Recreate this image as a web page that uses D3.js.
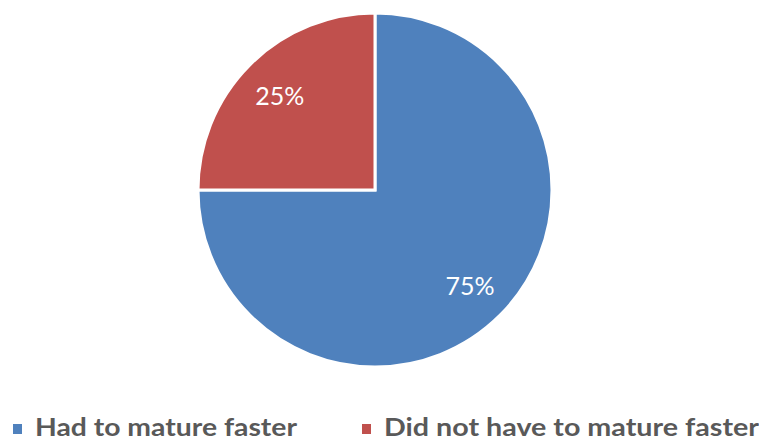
<!DOCTYPE html>
<html>
<head>
<meta charset="utf-8">
<script src="https://cdn.jsdelivr.net/npm/d3@7"></script>
<style>
  html, body { margin: 0; padding: 0; background: #fff; }
  svg { display: block; }
</style>
</head>
<body>
<svg id="chart" width="759" height="441"></svg>
<script>
const categories = ["Had to mature faster", "Did not have to mature faster"];
const values = [75, 25];
const labels = ["75%", "25%"];
const colors = ["#4F81BD", "#C0504D"];

const width = 759, height = 441;
const cx = 375, cy = 190, radius = 177;

const svg = d3.select("#chart");

const pie = d3.pie().sort(null).value(d => d.value);
const arcs = pie(categories.map((c, i) => ({ name: c, value: values[i], label: labels[i], color: colors[i] })));

const arc = d3.arc().innerRadius(0).outerRadius(radius);
const labelArc = d3.arc().innerRadius(radius * 0.76).outerRadius(radius * 0.76);

const g = svg.append("g").attr("transform", `translate(${cx},${cy})`);

g.selectAll("path.slice")
  .data(arcs)
  .join("path")
  .attr("class", "slice")
  .attr("d", arc)
  .attr("fill", d => d.data.color)
  .attr("stroke", "#fff")
  .attr("stroke-width", 3)
  .attr("stroke-linejoin", "miter");

g.selectAll("text.pct")
  .data(arcs)
  .join("text")
  .attr("class", "pct")
  .attr("transform", d => {
    const [x, y] = labelArc.centroid(d);
    return `translate(${x},${y})`;
  })
  .attr("text-anchor", "middle")
  .attr("dominant-baseline", "central")
  .attr("fill", "#fff")
  .style("font-family", "Lato, 'Open Sans', sans-serif")
  .style("font-size", "25px")
  .text(d => d.data.label);

// Legend along the bottom
const legendX = [13, 362];
const legendTextLen = [262, 375];
const baseline = 436;
const legend = svg.append("g");
categories.forEach((c, i) => {
  legend.append("rect")
    .attr("x", legendX[i])
    .attr("y", baseline - 12)
    .attr("width", 9)
    .attr("height", 10)
    .attr("fill", colors[i]);
  legend.append("text")
    .attr("x", legendX[i] + 22)
    .attr("y", baseline)
    .attr("fill", "#595959")
    .attr("textLength", legendTextLen[i])
    .attr("lengthAdjust", "spacingAndGlyphs")
    .style("font-family", "Lato, 'Open Sans', sans-serif")
    .style("font-size", "25px")
    .style("font-weight", "bold")
    .text(c);
});
</script>
</body>
</html>
